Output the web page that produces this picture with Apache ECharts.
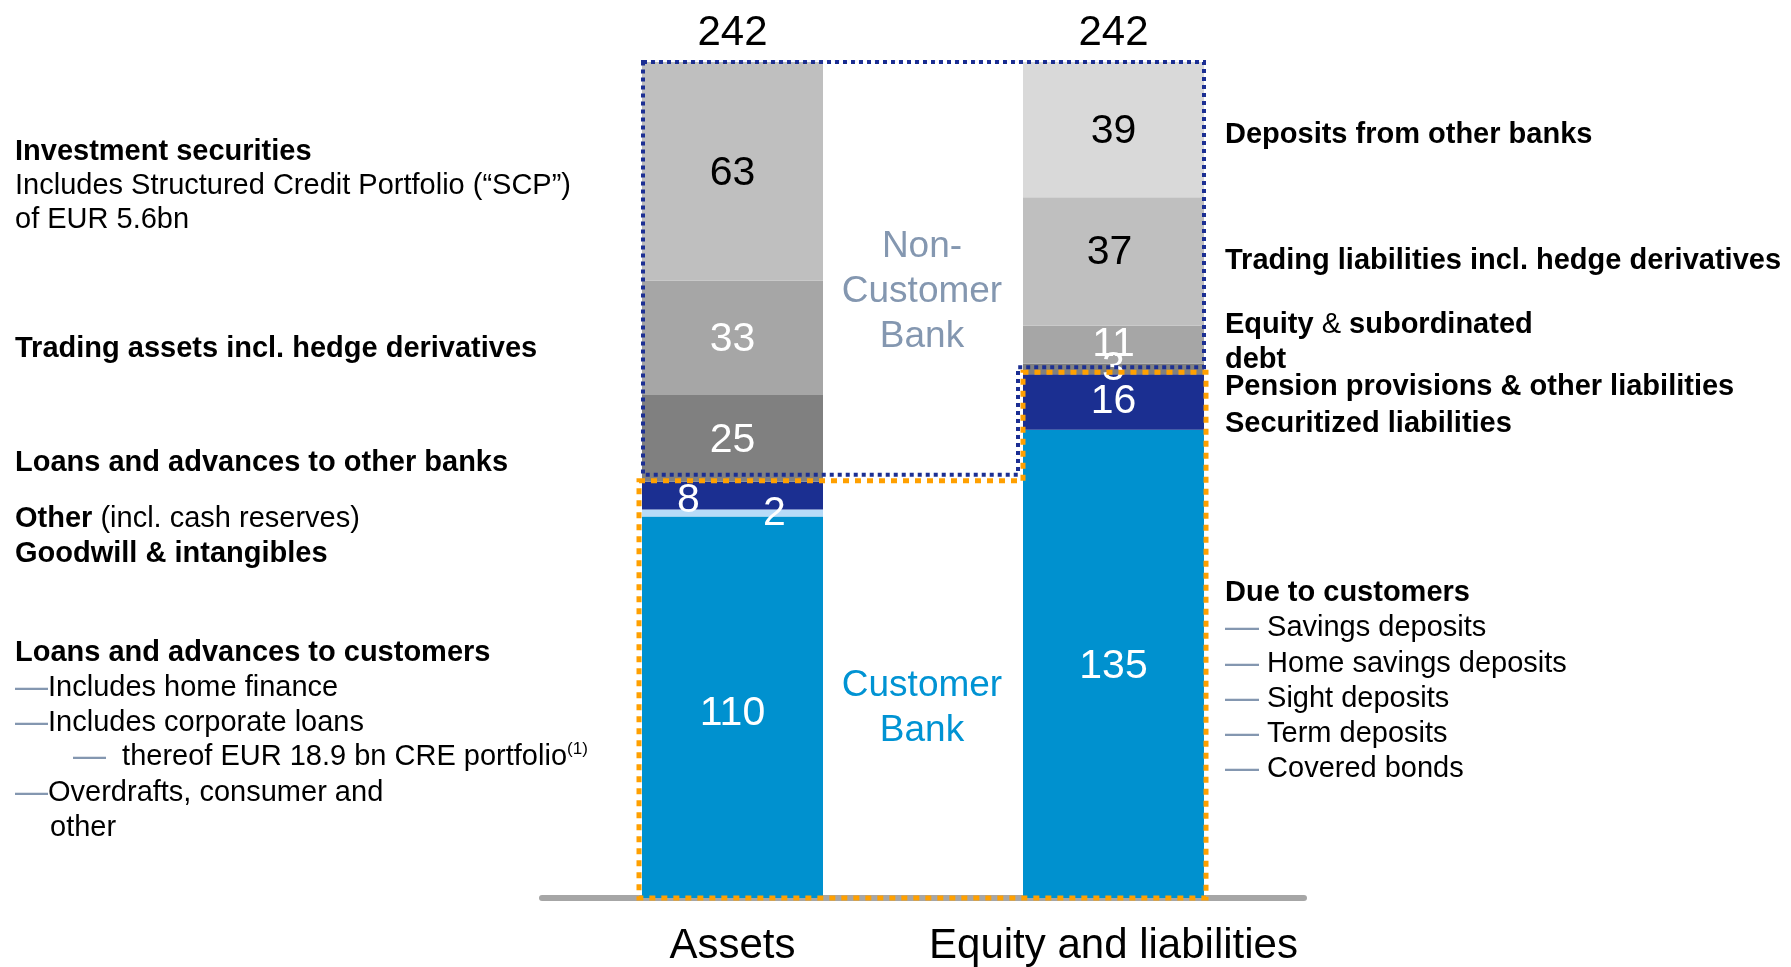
<!DOCTYPE html>
<html><head><meta charset="utf-8">
<script src="https://cdn.jsdelivr.net/npm/echarts@6/dist/echarts.min.js"></script>
<style>html,body{margin:0;padding:0;background:#fff}#c{width:1791px;height:967px}</style>
</head><body><div id="c"></div>
<script>
// ---------------- DATA ----------------
const categories = ['Assets', 'Equity and liabilities'];
const totals = [242, 242];
// stacked bottom -> top
const assetValues = [110, 2, 8, 25, 33, 63];
const liabilityValues = [135, 16, 3, 11, 37, 39];
const assetNames = ['Loans and advances to customers', 'Goodwill & intangibles', 'Other (incl. cash reserves)', 'Loans and advances to other banks', 'Trading assets incl. hedge derivatives', 'Investment securities'];
const liabilityNames = ['Due to customers', 'Securitized liabilities', 'Pension provisions & other liabilities', 'Equity & subordinated debt', 'Trading liabilities incl. hedge derivatives', 'Deposits from other banks'];
const customerBankSegments = [3, 2]; // bottom segments belonging to "Customer Bank" per bar
const groupLabels = ['Non-\nCustomer\nBank', 'Customer\nBank'];

// ---------------- STYLE ----------------
const FF = '"Liberation Sans", Arial, Helvetica, sans-serif';
const BAR_W = 181;
const assetColors = ['#0091CF', '#B7DBF8', '#1B2F91', '#808080', '#A6A6A6', '#BFBFBF'];
const liabColors = ['#0091CF', '#1B2F91', '#808080', '#A6A6A6', '#BFBFBF', '#D9D9D9'];
const assetLabelColors = ['#fff', '#fff', '#fff', '#fff', '#fff', '#000'];
const liabLabelColors = ['#fff', '#fff', '#fff', '#fff', '#000', '#000'];
const assetLabelOffsets = [[0, 6], [42, 1], [-44, 5], [0, 2], [0, 2], [0, 2]];
const liabLabelOffsets = [[0, 3], [0, 0], [0, 0], [0, 0], [-4, -9], [0, 2]];
const DASH = '#8497B0';

const sum = (arr, n) => arr.slice(0, n).reduce((a, b) => a + b, 0);

const chart = echarts.init(document.getElementById('c'), null, { renderer: 'canvas' });

const series = assetValues.map((v, i) => ({
  type: 'bar', stack: 'bs', barWidth: BAR_W, name: assetNames[i] + ' / ' + liabilityNames[i],
  data: [
    { value: v, itemStyle: { color: assetColors[i] }, label: { color: assetLabelColors[i], offset: assetLabelOffsets[i] } },
    { value: liabilityValues[i], itemStyle: { color: liabColors[i] }, label: { color: liabLabelColors[i], offset: liabLabelOffsets[i] } }
  ],
  label: { show: true, position: 'inside', fontSize: 41, fontFamily: FF },
  emphasis: { disabled: true }
}));

series.push({
  type: 'bar', stack: 'bs', barWidth: BAR_W, data: [0, 0],
  itemStyle: { color: 'transparent' },
  label: { show: true, position: 'top', distance: 8, fontSize: 42, fontFamily: FF, color: '#000', formatter: p => totals[p.dataIndex] },
  emphasis: { disabled: true }
});

// dotted group outlines
series.push({
  type: 'custom', z: 10, data: [[0, 0]], encode: { x: 0, y: 1 }, silent: true,
  renderItem: function (params, api) {
    const xA = api.coord([0, 0])[0], xE = api.coord([1, 0])[0];
    const aL = xA - BAR_W / 2, eL = xE - BAR_W / 2, eR = xE + BAR_W / 2;
    const yBottom = api.coord([0, 0])[1];
    const yTop = api.coord([0, sum(assetValues, assetValues.length)])[1];
    const ySA = api.coord([0, sum(assetValues, customerBankSegments[0])])[1];
    const ySE = api.coord([1, sum(liabilityValues, customerBankSegments[1])])[1];
    const navy = [[aL + 1, yTop], [eR, yTop], [eR, ySE - 7], [eL - 5, ySE - 7], [eL - 5, ySA - 7], [aL + 1, ySA - 7]];
    const orange = [[aL - 3, ySA - 1], [eL, ySA - 1], [eL, ySE - 2], [eR + 2, ySE - 2], [eR + 2, yBottom], [aL - 3, yBottom]];
    return {
      type: 'group', children: [
        { type: 'polygon', shape: { points: navy }, style: { fill: 'none', stroke: '#1C2F93', lineWidth: 4, lineDash: [4, 4] } },
        { type: 'polygon', shape: { points: orange }, style: { fill: 'none', stroke: '#FFA000', lineWidth: 5, lineDash: [6, 6] } }
      ]
    };
  }
});

function tok(size, weight, color, extra) {
  return Object.assign({ fontSize: size, fontFamily: FF, fontWeight: weight, fill: color, verticalAlign: 'middle' }, extra || {});
}
const rich = {
  b: tok(29, 'bold', '#000'),
  r: tok(29, 'normal', '#000'),
  d: tok(33, 'normal', DASH),
  d2: tok(34, 'normal', DASH),
  sup: tok(17, 'normal', '#000', { verticalAlign: 'top' })
};
function txt(x, y, text) {
  return { type: 'text', x: x, y: y, silent: true, style: { text: text, rich: rich, fontSize: 29, fontFamily: FF, fill: '#000', verticalAlign: 'middle', align: 'left' } };
}

const leftX = 15, rightX = 1225;
const graphics = [
  txt(leftX, 152, '{b|Investment securities}'),
  txt(leftX, 186, '{r|Includes Structured Credit Portfolio (“SCP”)}'),
  txt(leftX, 220, '{r|of EUR 5.6bn}'),
  txt(leftX, 349, '{b|Trading assets incl. hedge derivatives}'),
  txt(leftX, 463, '{b|Loans and advances to other banks}'),
  txt(leftX, 519, '{b|Other}{r| (incl. cash reserves)}'),
  txt(leftX, 554, '{b|Goodwill & intangibles}'),
  txt(leftX, 653, '{b|Loans and advances to customers}'),
  txt(leftX, 688, '{d|—}{r|Includes home finance}'),
  txt(leftX, 723, '{d|—}{r|Includes corporate loans}'),
  txt(73, 757, '{d|—}{r|  thereof EUR 18.9 bn CRE portfolio}{sup|(1)}'),
  txt(leftX, 793, '{d|—}{r|Overdrafts, consumer and}'),
  txt(50, 828, '{r|other}'),

  txt(rightX, 135, '{b|Deposits from other banks}'),
  txt(rightX, 261, '{b|Trading liabilities incl. hedge derivatives}'),
  txt(rightX, 325, '{b|Equity }{r|&}{b| subordinated}'),
  txt(rightX, 360, '{b|debt}'),
  txt(rightX, 387, '{b|Pension provisions & other liabilities}'),
  txt(rightX, 424, '{b|Securitized liabilities}'),
  txt(rightX, 593, '{b|Due to customers}'),
  txt(rightX, 628, '{d2|—}{r| Savings deposits}'),
  txt(rightX, 664, '{d2|—}{r| Home savings deposits}'),
  txt(rightX, 699, '{d2|—}{r| Sight deposits}'),
  txt(rightX, 734, '{d2|—}{r| Term deposits}'),
  txt(rightX, 769, '{d2|—}{r| Covered bonds}'),

  { type: 'text', x: 922, y: 292, silent: true, style: { text: groupLabels[0], fontSize: 37, fontFamily: FF, fill: '#8497B0', align: 'center', verticalAlign: 'middle', lineHeight: 45 } },
  { type: 'text', x: 922, y: 708, silent: true, style: { text: groupLabels[1], fontSize: 37, fontFamily: FF, fill: '#0093D3', align: 'center', verticalAlign: 'middle', lineHeight: 45 } }
];

chart.setOption({
  animation: false,
  backgroundColor: '#fff',
  grid: { left: 542, right: 487, top: 62, bottom: 68, containLabel: false },
  xAxis: {
    type: 'category', data: categories, offset: 3,
    axisLine: { show: true, lineStyle: { color: '#A6A6A6', width: 6 } },
    axisTick: { show: false },
    axisLabel: { fontSize: 42, fontFamily: FF, color: '#000', margin: 24, interval: 0 },
    splitLine: { show: false }
  },
  yAxis: { type: 'value', min: 0, max: 'dataMax', show: false, splitLine: { show: false } },
  series: series,
  graphic: graphics
});
</script></body></html>
